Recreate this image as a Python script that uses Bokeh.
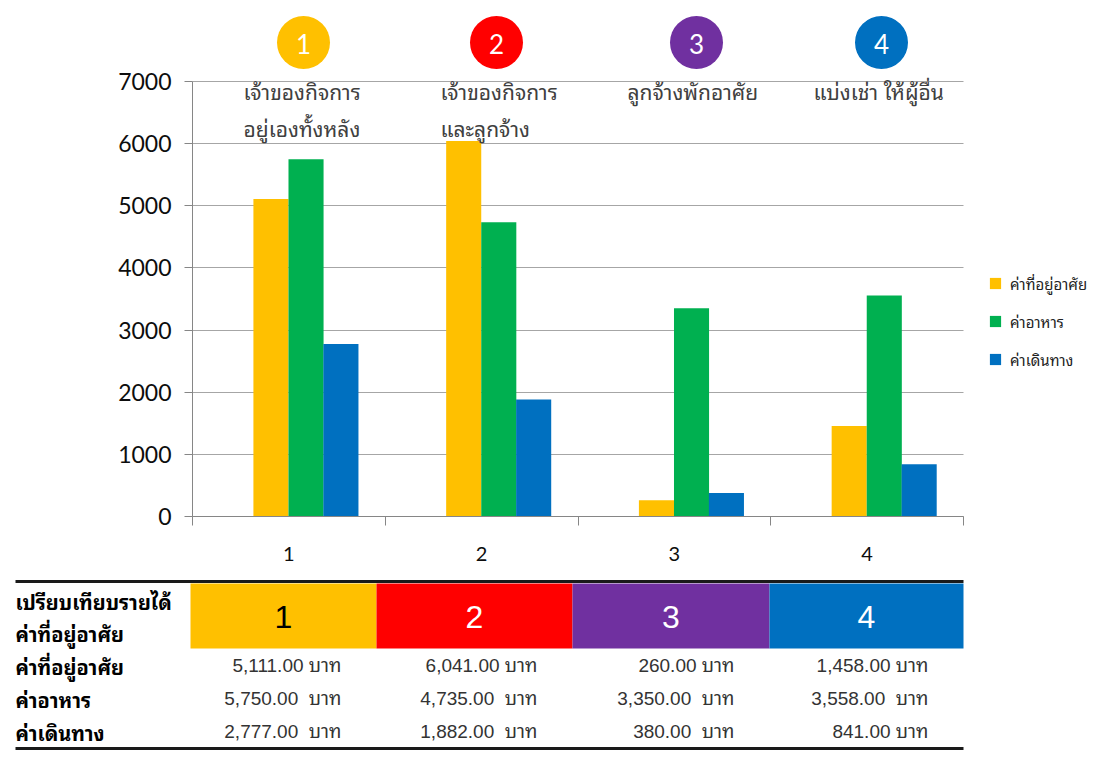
from bokeh.plotting import figure
from bokeh.models import Range1d, FixedTicker, Legend, LegendItem
from bokeh.embed import file_html
from bokeh.resources import INLINE
from bokeh.core.properties import value

# ---------------- data ----------------
categories = ["1", "2", "3", "4"]
group_titles = [["เจ้าของกิจการ", "อยู่เองทั้งหลัง"],
                ["เจ้าของกิจการ", "และลูกจ้าง"],
                ["ลูกจ้างพักอาศัย"],
                ["แบ่งเช่า ให้ผู้อื่น"]]
series_names = ["ค่าที่อยู่อาศัย", "ค่าอาหาร", "ค่าเดินทาง"]
housing = [5111, 6041, 260, 1458]
food = [5750, 4735, 3350, 3558]
travel = [2777, 1882, 380, 841]
y_ticks = [0, 1000, 2000, 3000, 4000, 5000, 6000, 7000]
table_title = ["เปรียบเทียบรายได้", "ค่าที่อยู่อาศัย"]
unit = "บาท"
unit_gaps = [[1, 1, 1, 1], [2, 2, 2, 2], [2, 2, 2, 1]]

# ---------------- style ----------------
group_colors = ["#FFC000", "#FF0000", "#7030A0", "#0070C0"]
series_colors = ["#FFC000", "#00B050", "#0070C0"]
THAI_S = "Noto Sans Thai Looped, Noto Serif Thai, Noto Sans Thai, Tahoma, sans-serif"
THAI = value(THAI_S)
LATIN_S = "Lato"
LATIN = value(LATIN_S)
NUMF = value("Liberation Sans, Noto Sans Thai Looped, Noto Sans Thai, sans-serif")

W, H = 1100, 758
FRAME_L, FRAME_R, FRAME_B, Y7000 = 192, 963, 516, 81
NCAT = len(categories)
CAT_W = (FRAME_R - FRAME_L) / NCAT          # px per category
PPU = (FRAME_B - Y7000) / 7000              # px per value unit

p = figure(width=W, height=H,
           x_range=Range1d(-FRAME_L / CAT_W, (W - FRAME_L) / CAT_W),
           y_range=Range1d(-(H - FRAME_B) / PPU, FRAME_B / PPU),
           output_backend="svg", toolbar_location=None,
           min_border_left=0, min_border_right=0, min_border_top=0, min_border_bottom=0)
p.extra_x_ranges = {"px": Range1d(0, W)}
p.extra_y_ranges = {"py": Range1d(H, 0)}
p.outline_line_color = None
p.background_fill_color = "white"
p.xgrid.visible = False
p.ygrid.ticker = FixedTicker(ticks=y_ticks)
p.ygrid.bounds = (0, 7000)
p.ygrid.cross_bounds = (0, NCAT)
p.ygrid.grid_line_color = "#A6A6A6"

ya = p.yaxis[0]
ya.fixed_location = 0
ya.ticker = FixedTicker(ticks=y_ticks)
ya.bounds = (0, 7000)
ya.major_tick_out = 8
ya.major_tick_in = 0
ya.minor_tick_out = 0
ya.minor_tick_in = 0
ya.axis_line_color = "#868686"
ya.major_tick_line_color = "#868686"
ya.major_label_text_font = LATIN_S
ya.major_label_text_font_size = "23px"
ya.major_label_text_color = "#0d0d0d"
ya.major_label_standoff = 13

xa = p.xaxis[0]
xa.fixed_location = 0
xa.bounds = (0, NCAT)
xa.ticker = FixedTicker(ticks=[i + 0.5 for i in range(NCAT)],
                        minor_ticks=list(range(NCAT + 1)))
xa.major_label_overrides = {i + 0.5: c for i, c in enumerate(categories)}
xa.major_tick_out = 0
xa.major_tick_in = 0
xa.minor_tick_out = 9
xa.minor_tick_in = 0
xa.minor_tick_line_color = "#868686"
xa.axis_line_color = "#868686"
xa.major_label_text_font = LATIN_S
xa.major_label_text_font_size = "20px"
xa.major_label_text_color = "#0d0d0d"
xa.major_label_standoff = 21

bar_offsets = [0.407, 0.589, 0.770]
bar_w = 0.182
items = []
for name, vals, col, off in zip(series_names, [housing, food, travel], series_colors, bar_offsets):
    r = p.vbar(x=[i + off for i in range(NCAT)], top=vals, width=bar_w,
               fill_color=col, line_color=None)
    items.append(LegendItem(label=name, renderers=[r]))

legend = Legend(items=items, location=(988, 387), label_text_font=THAI_S,
                label_text_font_size="15px", label_text_color="#222222",
                glyph_width=14, glyph_height=14, spacing=14, padding=0,
                margin=0, border_line_color=None, background_fill_alpha=0,
                label_standoff=8, label_height=14)
p.add_layout(legend)

# numbered circles above groups (page-pixel positions)
circle_x = [303, 496, 696, 881]
p.scatter(x=circle_x, y=[42] * NCAT, size=53, marker="circle", fill_color=group_colors,
          line_color=None, x_range_name="px", y_range_name="py")
p.text(x=circle_x, y=[43] * NCAT, text=categories, text_color="white", text_align="center",
       text_baseline="middle", text_font=LATIN, text_font_size="26px",
       x_range_name="px", y_range_name="py")

# group titles
title_x = [243, 440, 627, 813]
for i, lines in enumerate(group_titles):
    p.text(x=[title_x[i]] * len(lines), y=[90 + 37 * k for k in range(len(lines))],
           text=lines, text_align="left", text_baseline="middle",
           text_font=THAI, text_font_size="21px", text_color="#404040",
           x_range_name="px", y_range_name="py")

# ---------------- table (page-pixel coordinates) ----------------
cols = [190, 376, 572, 769, 963]
LINE_L = 15
T0 = 570
t_kw = dict(x_range_name="px", y_range_name="py")
p.segment(x0=[LINE_L, LINE_L], y0=[T0 + 11, T0 + 178], x1=[cols[-1], cols[-1]],
          y1=[T0 + 11, T0 + 178], line_color="#1a1a1a", line_width=3, **t_kw)
p.quad(left=cols[:-1], right=cols[1:], top=[T0 + 13] * 4, bottom=[T0 + 78] * 4,
       fill_color=group_colors, line_color=None, **t_kw)
p.text(x=[(a + b) / 2 for a, b in zip(cols[:-1], cols[1:])], y=[T0 + 46] * 4, text=categories,
       text_color=["black", "white", "white", "white"], text_align="center",
       text_baseline="middle", text_font=value("Liberation Sans"), text_font_size="32px", **t_kw)
p.text(x=[LINE_L] * 2, y=[T0 + 30, T0 + 62], text=table_title, text_align="left",
       text_baseline="middle", text_font=THAI, text_font_size="20px",
       text_font_style="bold", text_color="black", **t_kw)

row_y = [T0 + 95, T0 + 128, T0 + 161]
p.text(x=[LINE_L] * 3, y=row_y, text=series_names, text_align="left", text_baseline="middle",
       text_font=THAI, text_font_size="20px", text_font_style="bold", text_color="black", **t_kw)
for r, vals in enumerate([housing, food, travel]):
    txt = [f"{v:,.2f}" + "\u00a0" * (unit_gaps[r][c] - 1) + " " + unit
           for c, v in enumerate(vals)]
    p.text(x=[b - 35 for b in cols[1:]], y=[row_y[r]] * 4, text=txt, text_align="right",
           text_baseline="middle", text_font=NUMF, text_font_size="19px",
           text_color="#333333", **t_kw)

open("out.html", "w").write(file_html(p, INLINE))
